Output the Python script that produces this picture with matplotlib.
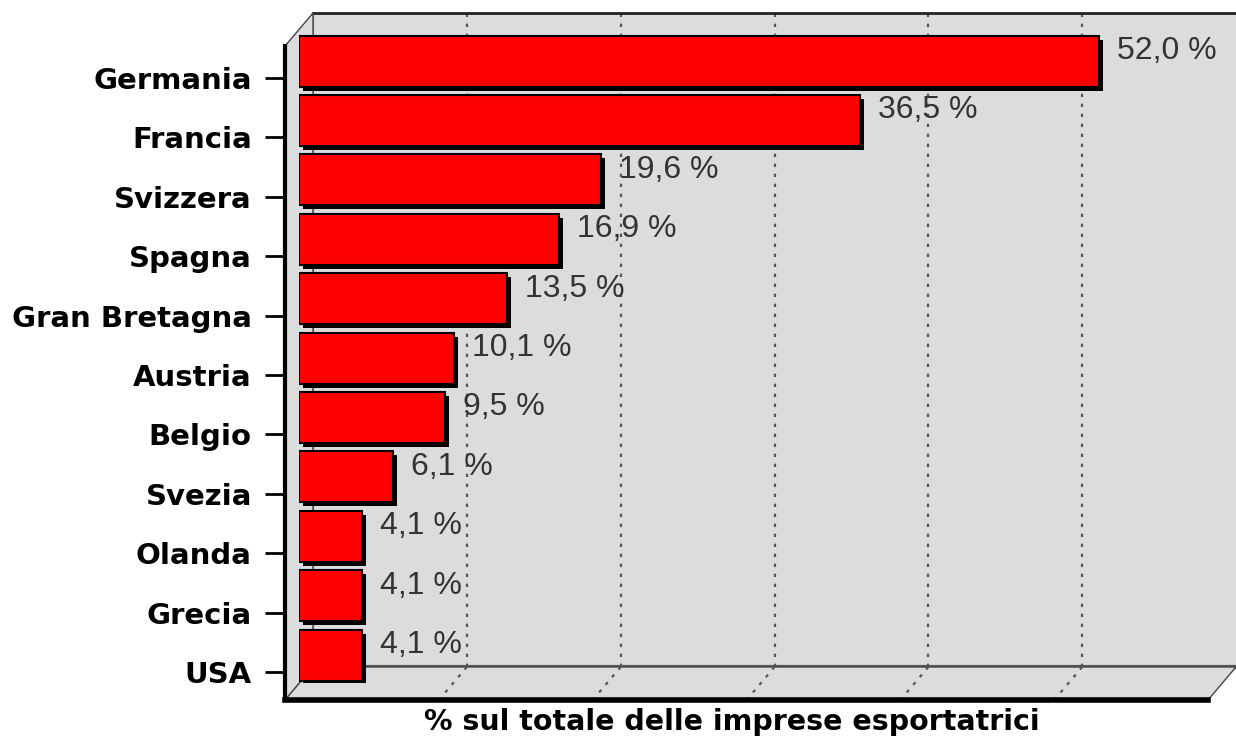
import numpy as np
import matplotlib.pyplot as plt
from matplotlib.patches import Polygon
from matplotlib.lines import Line2D
from matplotlib.transforms import ScaledTranslation

countries = ['Germania', 'Francia', 'Svizzera', 'Spagna', 'Gran Bretagna', 'Austria',
             'Belgio', 'Svezia', 'Olanda', 'Grecia', 'USA']
share = [52.0, 36.5, 19.6, 16.9, 13.5, 10.1, 9.5, 6.1, 4.1, 4.1, 4.1]
grid_ticks = [10, 20, 30, 40, 50]
xlabel = '% sul totale delle imprese esportatrici'

W, H = 1236, 740
fig = plt.figure(figsize=(W / 100, H / 100), dpi=100)
fig.patch.set_facecolor('white')

wall = '#dcdcdc'


def box(left, bottom):
    # pixel position, bottom measured from top of image
    return [left / W, (H - bottom) / H, 923 / W, 654 / H]


# back wall, bar plane and front plane of the fake 3d box
back = fig.add_axes(box(313, 667), zorder=0)
mid = fig.add_axes(box(299, 683), zorder=2)
front = fig.add_axes(box(285, 700), zorder=3)

pos = np.arange(len(countries))[::-1]
ymin, ymax = -0.47, 10.54
for ax in (back, mid, front):
    ax.set_xlim(0, 60)
    ax.set_ylim(ymin, ymax)

# back wall
back.set_facecolor(wall)
back.set_xticks(grid_ticks)
back.set_yticks([])
back.tick_params(axis='x', length=0, labelbottom=False)
back.grid(axis='x', color='#555555', linestyle=(0, (1.5, 3)), linewidth=1.6)
back.spines['top'].set_color('#222222')
back.spines['top'].set_linewidth(2)
back.spines['right'].set_visible(False)
back.spines['left'].set_color('#777777')
back.spines['bottom'].set_color('#5a5a5a')
back.spines['bottom'].set_linewidth(3)

# side wall and floor
to_fig = fig.transFigure.inverted()


def corner(ax, xy):
    return to_fig.transform(ax.transAxes.transform(xy))


side = Polygon([corner(back, (0, 1)), corner(back, (0, 0)), corner(front, (0, 0)), corner(front, (0, 1))],
               closed=True, facecolor=wall, edgecolor='#444444', linewidth=1,
               transform=fig.transFigure, zorder=1)
floor = Polygon([corner(back, (0, 0)), corner(back, (1, 0)), corner(front, (1, 0)), corner(front, (0, 0))],
                closed=True, facecolor=wall, edgecolor='#444444', linewidth=1,
                transform=fig.transFigure, zorder=1)
fig.patches.extend([side, floor])

for x in grid_ticks:
    p0 = to_fig.transform(back.transData.transform((x, ymin)))
    p1 = to_fig.transform(front.transData.transform((x, ymin)))
    fig.lines.append(Line2D([p0[0], p1[0]], [p0[1], p1[1]], color='#555555',
                            linestyle=(0, (1.5, 3)), linewidth=1.6,
                            transform=fig.transFigure, zorder=1.5))

# bars
mid.axis('off')
mid.patch.set_visible(False)
shadow = mid.transData + ScaledTranslation(4 / 100, -4 / 100, fig.dpi_scale_trans)
mid.barh(pos, share, height=0.86, color='black', transform=shadow)
mid.barh(pos, share, height=0.86, color='#ff0000', edgecolor='black', linewidth=1.5)

for p, v in zip(pos, share):
    back.annotate(f'{v:.1f} %'.replace('.', ','), (v, p), xytext=(4, -6),
                  textcoords='offset pixels', ha='left', va='center',
                  fontsize=23, color='#333333', family='Liberation Sans')

# front plane: category ticks
front.patch.set_visible(False)
front.set_xticks([])
front.set_yticks(pos)
front.set_yticklabels(countries, fontsize=21, fontweight='bold')
front.tick_params(axis='y', length=14.4, width=2, pad=9.5)
front.spines['top'].set_visible(False)
front.spines['right'].set_visible(False)
front.spines['left'].set_linewidth(3)
front.spines['bottom'].set_linewidth(4)

fig.text(732 / W, 1 - 722 / H, xlabel, ha='center', va='center',
         fontsize=20.5, fontweight='bold')

fig.savefig('out.png', dpi=100)
